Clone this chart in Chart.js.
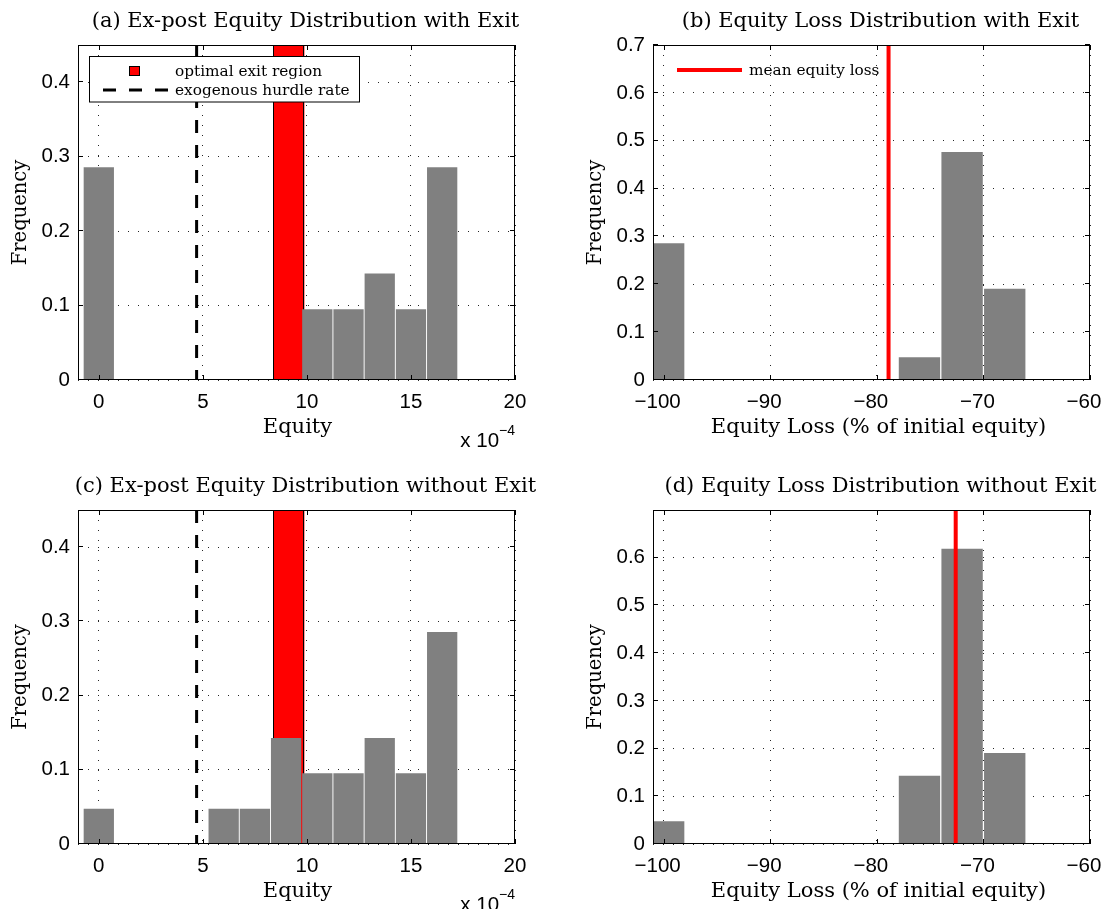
<!DOCTYPE html>
<html>
<head>
<meta charset="utf-8">
<script src="https://cdn.jsdelivr.net/npm/chart.js@4.4.1/dist/chart.umd.min.js"></script>
<style>
  html, body { margin: 0; padding: 0; background: #fff; }
  #wrap { position: relative; width: 1105px; height: 909px; overflow: hidden; background: #fff; }
  #wrap canvas { position: absolute; }
</style>
</head>
<body>
<div id="wrap">
  <canvas id="panelA"></canvas>
  <canvas id="panelB"></canvas>
  <canvas id="panelC"></canvas>
  <canvas id="panelD"></canvas>
</div>
<script>
// Ex-post equity histogram: bin centres in units of 1e-4, bin width 1.5
const equityBins = [0, 1.5, 3, 4.5, 6, 7.5, 9, 10.5, 12, 13.5, 15, 16.5];
const equityFreqWithExit    = [0.2857, 0, 0, 0, 0, 0, 0, 0.0952, 0.0952, 0.1429, 0.0952, 0.2857];
const equityFreqWithoutExit = [0.0476, 0, 0, 0, 0.0476, 0.0476, 0.1429, 0.0952, 0.0952, 0.1429, 0.0952, 0.2857];

// Equity loss histogram: bin centres in % of initial equity, bin width 4
const lossBins = [-100, -96, -92, -88, -84, -80, -76, -72, -68];
const lossFreqWithExit    = [0.2857, 0, 0, 0, 0, 0, 0.0476, 0.4762, 0.1905];
const lossFreqWithoutExit = [0.0476, 0, 0, 0, 0, 0, 0.1429, 0.6190, 0.1905];

// Reference levels
const hurdleRate = 4.7;               // exogenous hurdle rate (x 1e-4)
const exitRegion = [8.38, 9.88];      // optimal exit region (x 1e-4)
const meanLossWithExit = -78.9;       // mean equity loss, with exit
const meanLossWithoutExit = -72.6;    // mean equity loss, without exit

// Axis ticks
const equityTicks = [0, 5, 10, 15, 20];
const lossTicks = [-100, -90, -80, -70, -60];
const freqTicksEquity = [0, 0.1, 0.2, 0.3, 0.4];
const freqTicksLoss = [0, 0.1, 0.2, 0.3, 0.4, 0.5, 0.6, 0.7];
const freqTicksLossNoExit = [0, 0.1, 0.2, 0.3, 0.4, 0.5, 0.6];

// Text
const titles = [
  '(a) Ex-post Equity Distribution with Exit',
  '(b) Equity Loss Distribution with Exit',
  '(c) Ex-post Equity Distribution without Exit',
  '(d) Equity Loss Distribution without Exit'
];
const yLabel = 'Frequency';
const equityLabel = 'Equity';
const lossLabel = 'Equity Loss (% of initial equity)';
const legendExit = 'optimal exit region';
const legendHurdle = 'exogenous hurdle rate';
const legendMean = 'mean equity loss';

const SERIF = '"DejaVu Serif", "Liberation Serif", serif';
const SANS = '"Liberation Sans", Arial, sans-serif';
const RED = '#ff0000';
const GREY = '#808080';
const GRID = '#262626';

function fmtTick(v) {
  if (Math.abs(v) < 1e-9) return '0';
  const a = Math.abs(v);
  const s = Number.isInteger(a) ? String(a) : a.toFixed(1);
  return (v < 0 ? '\u2212' : '') + s;
}

function framePlugin(spec) {
  return {
    id: 'frame',
    beforeDatasetsDraw(chart) {
      if (!spec.exit) return;
      const { ctx, chartArea: a, scales: { x } } = chart;
      const x0 = x.getPixelForValue(spec.exit[0]);
      const x1 = x.getPixelForValue(spec.exit[1]);
      ctx.save();
      ctx.fillStyle = RED;
      ctx.fillRect(x0, a.top, x1 - x0, a.bottom - a.top);
      ctx.strokeStyle = '#000';
      ctx.lineWidth = 1;
      ctx.beginPath();
      ctx.moveTo(Math.round(x0) + 0.5, a.top); ctx.lineTo(Math.round(x0) + 0.5, a.bottom);
      ctx.moveTo(Math.round(x1) - 0.5, a.top); ctx.lineTo(Math.round(x1) - 0.5, a.bottom);
      ctx.stroke();
      ctx.restore();
    },
    afterDraw(chart) {
      const { ctx, chartArea: a, scales: { x, y } } = chart;
      ctx.save();
      // axes box
      ctx.strokeStyle = '#000';
      ctx.lineWidth = 1;
      ctx.strokeRect(a.left + 0.5, a.top + 0.5, a.right - a.left - 1, a.bottom - a.top - 1);
      // inward tick marks on all four sides
      const tl = 5;
      ctx.beginPath();
      spec.xTicks.forEach(v => {
        const px = Math.round(x.getPixelForValue(v)) + 0.5;
        ctx.moveTo(px, a.bottom); ctx.lineTo(px, a.bottom - tl);
        ctx.moveTo(px, a.top); ctx.lineTo(px, a.top + tl);
      });
      spec.yTicks.forEach(v => {
        const py = Math.round(y.getPixelForValue(v)) - 0.5;
        ctx.moveTo(a.left, py); ctx.lineTo(a.left + tl, py);
        ctx.moveTo(a.right, py); ctx.lineTo(a.right - tl, py);
      });
      ctx.stroke();

      const cx = (a.left + a.right) / 2;
      ctx.fillStyle = '#000';
      ctx.textBaseline = 'alphabetic';
      // title
      ctx.font = '21px ' + SERIF;
      ctx.textAlign = 'center';
      ctx.fillText(spec.title, cx + 9, a.top - 18);
      // x label
      ctx.fillText(spec.xLabel, cx + spec.xLabelShift, a.bottom + 53);
      // y label
      ctx.save();
      ctx.font = '19.5px ' + SERIF;
      ctx.translate(a.left - 52, (a.top + a.bottom) / 2);
      ctx.rotate(-Math.PI / 2);
      ctx.fillText(yLabel, 0, 0);
      ctx.restore();
      // exponent note
      if (spec.exponent) {
        ctx.textAlign = 'right';
        ctx.font = '14px ' + SANS;
        ctx.fillText('\u22124', a.right, a.bottom + 55);
        const ew = ctx.measureText('\u22124').width;
        ctx.font = '20.5px ' + SANS;
        ctx.fillText('x 10', a.right - ew, a.bottom + 67);
      }
      // legends
      if (spec.legend === 'equity') {
        const bx = 89.5, by = 56.5, bw = 270, bh = 45.5;
        ctx.fillStyle = '#fff';
        ctx.fillRect(bx, by, bw, bh);
        ctx.strokeStyle = '#000';
        ctx.lineWidth = 1;
        ctx.strokeRect(bx, by, bw, bh);
        ctx.fillStyle = RED;
        ctx.fillRect(129.5, 66.5, 10, 9);
        ctx.strokeRect(129.5, 66.5, 10, 9);
        ctx.beginPath();
        ctx.lineWidth = 3;
        ctx.setLineDash([13, 13]);
        ctx.moveTo(103, 90); ctx.lineTo(169, 90);
        ctx.stroke();
        ctx.setLineDash([]);
        ctx.fillStyle = '#000';
        ctx.font = '15.3px ' + SERIF;
        ctx.textAlign = 'left';
        ctx.fillText(legendExit, 175, 76);
        ctx.fillText(legendHurdle, 175, 95);
      } else if (spec.legend === 'loss') {
        ctx.strokeStyle = RED;
        ctx.lineWidth = 4;
        ctx.beginPath();
        ctx.moveTo(a.left + 24, 70); ctx.lineTo(a.left + 89, 70);
        ctx.stroke();
        ctx.fillStyle = '#000';
        ctx.font = '15.3px ' + SERIF;
        ctx.textAlign = 'left';
        ctx.fillText(legendMean, a.left + 96, 75);
      }
      ctx.restore();
    }
  };
}

function makePanel(id, spec) {
  const canvas = document.getElementById(id);
  canvas.width = spec.w;
  canvas.height = spec.h;
  canvas.style.left = spec.left + 'px';
  canvas.style.top = spec.top + 'px';

  const datasets = [{
    type: 'bar',
    data: spec.bins.map((b, i) => ({ x: b, y: spec.freq[i] })),
    backgroundColor: GREY,
    borderWidth: 0,
    barPercentage: 0.97,
    categoryPercentage: 1,
    clip: 0,
    order: 3
  }];
  spec.lines.forEach(l => datasets.push({
    type: 'line',
    data: [{ x: l.x, y: spec.yMax }, { x: l.x, y: 0 }],
    borderColor: l.color,
    borderWidth: l.width,
    borderDash: l.dash || [],
    borderCapStyle: 'butt',
    pointRadius: 0,
    fill: false,
    tension: 0,
    clip: 0,
    order: 1
  }));

  const gridOpts = { color: GRID, lineWidth: 1, drawTicks: false, offset: false };
  const borderOpts = { display: false, dash: [1, 9] };

  return new Chart(canvas, {
    type: 'bar',
    data: { datasets },
    options: {
      responsive: false,
      animation: false,
      events: [],
      devicePixelRatio: 1,
      layout: { padding: { left: 0, top: spec.padTop, right: spec.padRight, bottom: 0 } },
      plugins: { legend: { display: false }, title: { display: false }, tooltip: { enabled: false } },
      scales: {
        x: {
          type: 'linear', min: spec.xMin, max: spec.xMax, offset: false, z: 1,
          grid: gridOpts, border: borderOpts,
          ticks: { font: { family: SANS, size: 20.5 }, color: '#000', padding: 10, maxRotation: 0, autoSkip: false,
                   labelOffset: spec.labelOffset || 0, callback: fmtTick },
          afterBuildTicks: s => { s.ticks = spec.xTicks.map(v => ({ value: v })); },
          afterFit: s => { s.height = spec.xAxisH; s.paddingLeft = 0; s.paddingRight = 0; }
        },
        y: {
          type: 'linear', min: 0, max: spec.yMax, z: 1,
          grid: gridOpts, border: borderOpts,
          ticks: { font: { family: SANS, size: 20.5 }, color: '#000', padding: 8, autoSkip: false, callback: fmtTick },
          afterBuildTicks: s => { s.ticks = spec.yTicks.map(v => ({ value: v })); },
          afterFit: s => { s.width = spec.yAxisW; s.paddingTop = 0; s.paddingBottom = 0; }
        }
      }
    },
    plugins: [framePlugin(spec)]
  });
}

const hurdleLine = { x: hurdleRate, color: '#000', width: 3, dash: [13, 12] };

makePanel('panelA', {
  left: 0, top: 0, w: 552, h: 455, padTop: 45, padRight: 37, xAxisH: 75, yAxisW: 78,
  bins: equityBins, freq: equityFreqWithExit, xMin: -1, xMax: 20, yMax: 0.45,
  xTicks: equityTicks, yTicks: freqTicksEquity, exit: exitRegion,
  lines: [hurdleLine], title: titles[0], xLabel: equityLabel, xLabelShift: 1,
  exponent: true, legend: 'equity'
});
makePanel('panelB', {
  left: 552, top: 0, w: 553, h: 455, padTop: 45, padRight: 15, xAxisH: 75, yAxisW: 101,
  bins: lossBins, freq: lossFreqWithExit, xMin: -101, xMax: -60, yMax: 0.7,
  xTicks: lossTicks, yTicks: freqTicksLoss, labelOffset: -6,
  lines: [{ x: meanLossWithExit, color: RED, width: 4 }], title: titles[1], xLabel: lossLabel, xLabelShift: 7,
  legend: 'loss'
});
makePanel('panelC', {
  left: 0, top: 455, w: 552, h: 454, padTop: 55, padRight: 37, xAxisH: 65, yAxisW: 78,
  bins: equityBins, freq: equityFreqWithoutExit, xMin: -1, xMax: 20, yMax: 0.45,
  xTicks: equityTicks, yTicks: freqTicksEquity, exit: exitRegion,
  lines: [hurdleLine], title: titles[2], xLabel: equityLabel, xLabelShift: 1,
  exponent: true
});
makePanel('panelD', {
  left: 552, top: 455, w: 553, h: 454, padTop: 55, padRight: 15, xAxisH: 65, yAxisW: 101,
  bins: lossBins, freq: lossFreqWithoutExit, xMin: -101, xMax: -60, yMax: 0.7,
  xTicks: lossTicks, yTicks: freqTicksLossNoExit, labelOffset: -6,
  lines: [{ x: meanLossWithoutExit, color: RED, width: 4 }], title: titles[3], xLabel: lossLabel, xLabelShift: 7
});
</script>
</body>
</html>
